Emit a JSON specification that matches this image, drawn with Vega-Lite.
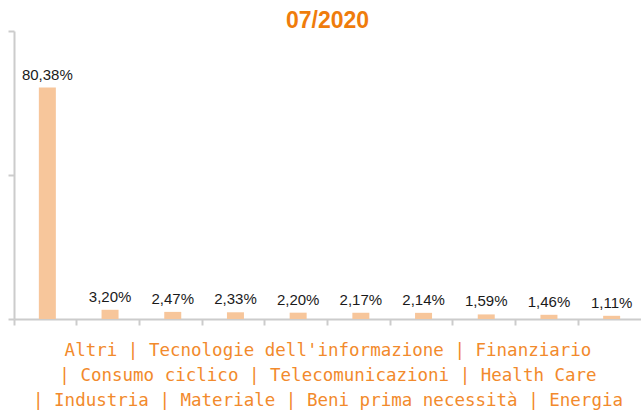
{
  "$schema": "https://vega.github.io/schema/vega-lite/v6.json",
  "autosize": "none",
  "width": 627,
  "height": 288,
  "padding": {"left": 14, "top": 31, "right": 0, "bottom": 91},
  "background": "white",
  "title": {
    "text": "07/2020",
    "anchor": "middle",
    "font": "Liberation Sans",
    "fontSize": 23,
    "fontWeight": "bold",
    "color": "#EF7C0C",
    "offset": -3
  },
  "data": {
    "values": [
      {"settore": "Altri", "peso": 80.38, "etichetta": "80,38%"},
      {"settore": "Tecnologie dell'informazione", "peso": 3.20, "etichetta": "3,20%"},
      {"settore": "Finanziario", "peso": 2.47, "etichetta": "2,47%"},
      {"settore": "Consumo ciclico", "peso": 2.33, "etichetta": "2,33%"},
      {"settore": "Telecomunicazioni", "peso": 2.20, "etichetta": "2,20%"},
      {"settore": "Health Care", "peso": 2.17, "etichetta": "2,17%"},
      {"settore": "Industria", "peso": 2.14, "etichetta": "2,14%"},
      {"settore": "Materiale", "peso": 1.59, "etichetta": "1,59%"},
      {"settore": "Beni prima necessità", "peso": 1.46, "etichetta": "1,46%"},
      {"settore": "Energia", "peso": 1.11, "etichetta": "1,11%"}
    ]
  },
  "encoding": {
    "x": {
      "field": "settore",
      "type": "nominal",
      "sort": null,
      "scale": {"paddingInner": 0, "paddingOuter": 0},
      "axis": {
        "labels": false,
        "bandPosition": 0,
        "domainColor": "#cccccc",
        "domainWidth": 2,
        "tickColor": "#cccccc",
        "tickWidth": 2,
        "tickSize": 6,
        "title": [
          "Altri | Tecnologie dell'informazione | Finanziario",
          "| Consumo ciclico | Telecomunicazioni | Health Care",
          "| Industria | Materiale | Beni prima necessità | Energia"
        ],
        "titleFont": "DejaVu Sans Mono",
        "titleFontSize": 17.5,
        "titleFontWeight": "normal",
        "titleColor": "#F28A2C",
        "titleLineHeight": 25,
        "titleBaseline": "alphabetic",
        "titlePadding": 29
      }
    },
    "y": {
      "field": "peso",
      "type": "quantitative",
      "scale": {"domain": [0, 100]},
      "axis": {
        "labels": false,
        "title": null,
        "grid": false,
        "values": [0, 50, 100],
        "domainColor": "#cccccc",
        "domainWidth": 2,
        "tickColor": "#cccccc",
        "tickWidth": 2,
        "tickSize": 6
      }
    }
  },
  "layer": [
    {"mark": {"type": "bar", "size": 17, "color": "#F7C69B", "xOffset": 2}},
    {
      "mark": {
        "type": "text",
        "font": "Liberation Sans",
        "fontSize": 15,
        "color": "#1a1a1a",
        "baseline": "alphabetic",
        "dy": -8,
        "xOffset": 2
      },
      "encoding": {"text": {"field": "etichetta"}}
    }
  ],
  "config": {"view": {"stroke": null}}
}
